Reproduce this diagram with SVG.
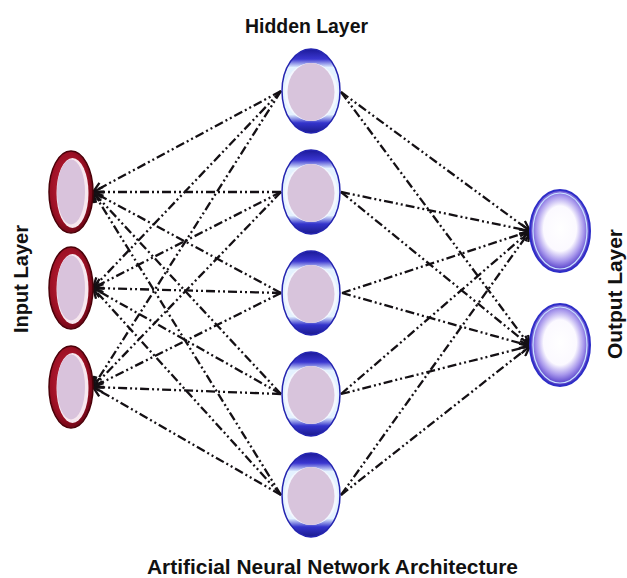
<svg xmlns="http://www.w3.org/2000/svg" width="627" height="578" viewBox="0 0 627 578">
<defs>
<style>
.lbl{font-family:"Liberation Sans",Arial,sans-serif;font-weight:bold;font-size:21px;fill:#111}
.con{fill:none;stroke:#141014;stroke-width:2.3;stroke-dasharray:9 3 2 3 2 3;marker-end:url(#arr)}
.in-o{fill:url(#gRed);stroke:#4a0008;stroke-width:1.5}
.in-h{fill:#f7e8ef}
.in-i{fill:#d9c3dc}
.hd-o{fill:url(#gBlue);stroke:#2424b0;stroke-width:1.5}
.hd-w{fill:#f4f8ff}
.hd-i{fill:#d8c4dc}
.out-o{fill:url(#gOut);stroke:#2e2ec8;stroke-width:2}
.out-r{fill:none;stroke:#c8e4ff;stroke-width:1.2}
</style>
<marker id="arr" viewBox="0 0 12 12" refX="11" refY="6" markerWidth="12" markerHeight="12" markerUnits="userSpaceOnUse" orient="auto">
<path d="M1,1 L11,6 L1,11" fill="none" stroke="#141014" stroke-width="2.3" stroke-dasharray="none"/>
</marker>
<radialGradient id="gRed" cx="45%" cy="45%" r="60%">
<stop offset="0" stop-color="#c82640"/>
<stop offset="0.7" stop-color="#9c1024"/>
<stop offset="1" stop-color="#600412"/>
</radialGradient>
<linearGradient id="gBlue" x1="0" y1="0" x2="0" y2="1">
<stop offset="0" stop-color="#1c1a98"/>
<stop offset="0.12" stop-color="#3a36d0"/>
<stop offset="0.22" stop-color="#e4f2ff"/>
<stop offset="0.78" stop-color="#e4f2ff"/>
<stop offset="0.88" stop-color="#3434cc"/>
<stop offset="1" stop-color="#1a1a8c"/>
</linearGradient>
<radialGradient id="gOut" cx="50%" cy="47%" r="55%">
<stop offset="0" stop-color="#ffffff"/>
<stop offset="0.5" stop-color="#fbf9ff"/>
<stop offset="0.72" stop-color="#a898ec"/>
<stop offset="0.9" stop-color="#5a44cc"/>
<stop offset="1" stop-color="#3424a8"/>
</radialGradient>
</defs>
<rect width="627" height="578" fill="#ffffff"/>
<g id="connectors">
<path class="con" d="M281,91 L93,192"/>
<path class="con" d="M281,91 L93,288"/>
<path class="con" d="M281,91 L93,387"/>
<path class="con" d="M281,192 L93,192"/>
<path class="con" d="M281,192 L93,288"/>
<path class="con" d="M281,192 L93,387"/>
<path class="con" d="M281,293 L93,192"/>
<path class="con" d="M281,293 L93,288"/>
<path class="con" d="M281,293 L93,387"/>
<path class="con" d="M281,394 L93,192"/>
<path class="con" d="M281,394 L93,288"/>
<path class="con" d="M281,394 L93,387"/>
<path class="con" d="M281,495 L93,192"/>
<path class="con" d="M281,495 L93,288"/>
<path class="con" d="M281,495 L93,387"/>
<path class="con" d="M341,92 L530,231"/>
<path class="con" d="M341,92 L530,346"/>
<path class="con" d="M341,192 L530,231"/>
<path class="con" d="M341,192 L530,346"/>
<path class="con" d="M342,293 L530,231"/>
<path class="con" d="M342,293 L530,346"/>
<path class="con" d="M341,394 L530,231"/>
<path class="con" d="M341,394 L530,346"/>
<path class="con" d="M341,495 L530,231"/>
<path class="con" d="M341,495 L530,346"/>
</g>
<g id="input1"><ellipse class="in-o" cx="71" cy="192" rx="22" ry="41"/><ellipse class="in-h" cx="72.5" cy="193" rx="16" ry="35"/><ellipse class="in-i" cx="71" cy="192" rx="14" ry="32.5"/></g>
<g id="input2"><ellipse class="in-o" cx="71" cy="288" rx="22" ry="41"/><ellipse class="in-h" cx="72.5" cy="289" rx="16" ry="35"/><ellipse class="in-i" cx="71" cy="288" rx="14" ry="32.5"/></g>
<g id="input3"><ellipse class="in-o" cx="71" cy="387" rx="22" ry="41"/><ellipse class="in-h" cx="72.5" cy="388" rx="16" ry="35"/><ellipse class="in-i" cx="71" cy="387" rx="14" ry="32.5"/></g>
<g id="hidden1"><ellipse class="hd-o" cx="311" cy="91" rx="29" ry="42"/><ellipse class="hd-w" cx="311" cy="92" rx="26.5" ry="29"/><ellipse class="hd-i" cx="311" cy="92" rx="23.5" ry="29"/></g>
<g id="hidden2"><ellipse class="hd-o" cx="311" cy="192" rx="29" ry="42"/><ellipse class="hd-w" cx="311" cy="193" rx="26.5" ry="29"/><ellipse class="hd-i" cx="311" cy="193" rx="23.5" ry="29"/></g>
<g id="hidden3"><ellipse class="hd-o" cx="311" cy="293" rx="29" ry="42"/><ellipse class="hd-w" cx="311" cy="294" rx="26.5" ry="29"/><ellipse class="hd-i" cx="311" cy="294" rx="23.5" ry="29"/></g>
<g id="hidden4"><ellipse class="hd-o" cx="311" cy="394" rx="29" ry="42"/><ellipse class="hd-w" cx="311" cy="395" rx="26.5" ry="29"/><ellipse class="hd-i" cx="311" cy="395" rx="23.5" ry="29"/></g>
<g id="hidden5"><ellipse class="hd-o" cx="311" cy="495" rx="29" ry="42"/><ellipse class="hd-w" cx="311" cy="496" rx="26.5" ry="29"/><ellipse class="hd-i" cx="311" cy="496" rx="23.5" ry="29"/></g>
<g id="output1"><ellipse class="out-o" cx="560" cy="231" rx="30" ry="41"/><ellipse class="out-r" cx="560" cy="231" rx="27" ry="38"/></g>
<g id="output2"><ellipse class="out-o" cx="560" cy="345" rx="30" ry="41"/><ellipse class="out-r" cx="560" cy="345" rx="27" ry="38"/></g>
<g id="labels">
<text class="lbl" x="306.5" y="33" text-anchor="middle" textLength="123" lengthAdjust="spacingAndGlyphs">Hidden Layer</text>
<text class="lbl" transform="translate(28,279) rotate(-90)" text-anchor="middle" textLength="108" lengthAdjust="spacingAndGlyphs">Input Layer</text>
<text class="lbl" transform="translate(622,294) rotate(-90)" text-anchor="middle" textLength="130" lengthAdjust="spacingAndGlyphs">Output Layer</text>
<text class="lbl" x="332.5" y="574" text-anchor="middle" textLength="371" lengthAdjust="spacingAndGlyphs">Artificial Neural Network Architecture</text>
</g>
</svg>
